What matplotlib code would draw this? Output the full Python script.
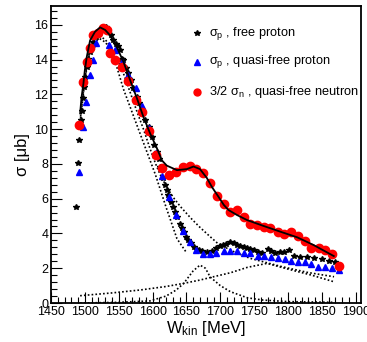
import matplotlib
matplotlib.use("Agg")
import matplotlib.pyplot as plt
from matplotlib.ticker import MultipleLocator

plt.rcParams['font.family'] = ['Liberation Sans', 'DejaVu Sans']
plt.rcParams['mathtext.fontset'] = 'custom'
plt.rcParams['mathtext.rm'] = 'Liberation Sans'
plt.rcParams['mathtext.it'] = 'Liberation Sans:italic'

# ---- data: free proton (stars)
star_w = [1487, 1490.4, 1491.9, 1494, 1495.4, 1497, 1498.8, 1500.3, 1502.8, 1505, 1507.7, 1510,
          1512.6, 1516.6, 1520, 1524, 1527.4, 1531.4, 1534.8, 1538, 1542, 1546, 1549, 1552,
          1554.6, 1557, 1561, 1564.4, 1568, 1571.7, 1576.8, 1580.6, 1584, 1589, 1594, 1599,
          1602.8, 1606.4, 1609, 1611, 1615, 1618.6, 1621, 1623.5, 1627, 1630, 1632.4, 1636,
          1640, 1643.3, 1645.7, 1649.7, 1653, 1656.7, 1660.5, 1665.5, 1668, 1673, 1680,
          1687.7, 1694, 1699, 1704, 1709, 1714.8, 1719.7, 1724.7, 1729.6, 1734.5, 1739.5,
          1744.4, 1750, 1755, 1761.6, 1770, 1775, 1781, 1787.7, 1794.7, 1801, 1808.4,
          1818.3, 1828, 1838, 1850.4, 1860, 1870]
star_s = [5.5, 8.06, 9.37, 10.5, 11.05, 11.76, 12.43, 13.0, 13.6, 14.06, 14.44, 14.73,
          15.0, 15.3, 15.5, 15.7, 15.9, 15.9, 15.7, 15.4, 15.1, 14.9, 14.8, 14.54,
          14.06, 13.97, 13.5, 13.2, 12.8, 12.34, 11.86, 11.48, 11.0, 10.5, 10.13, 9.56,
          9.08, 8.7, 8.3, 7.83, 7.17, 6.8, 6.5, 6.2, 5.82, 5.53, 5.25, 4.96,
          4.54, 4.29, 4.1, 3.81, 3.62, 3.43, 3.24, 3.05, 3.05, 2.99, 2.95,
          3.0, 3.14, 3.28, 3.33, 3.39, 3.52, 3.43, 3.33, 3.28, 3.2, 3.14,
          3.1, 3.05, 2.95, 2.89, 3.08, 3.0, 2.86, 2.95, 2.95, 3.05, 2.7,
          2.63, 2.63, 2.57, 2.51, 2.41, 2.34]

# ---- quasi-free proton (triangles)
tri_w = [1491.9, 1497, 1501.8, 1507.7, 1512.6, 1516.6, 1536, 1544.7, 1554.6, 1564.4, 1575,
         1585, 1595, 1605, 1614.6, 1624.6, 1634.5, 1644.5, 1654.6, 1664.5, 1674.4, 1684.2,
         1694, 1705, 1714.8, 1724.7, 1734.5, 1744.4, 1755.2, 1765, 1775, 1784.8, 1795,
         1805, 1815, 1824.7, 1834.6, 1844.5, 1855.3, 1865.2, 1876]
tri_s = [7.55, 10.13, 11.57, 13.1, 13.97, 14.96, 14.83, 14.54, 13.87, 13.1, 12.34,
         11.32, 10.04, 8.6, 7.3, 6.11, 5.06, 4.15, 3.5, 3.05, 2.8, 2.8,
         2.89, 2.99, 2.99, 2.99, 2.89, 2.86, 2.7, 2.7, 2.63, 2.57, 2.51,
         2.41, 2.37, 2.34, 2.24, 2.09, 2.05, 1.99, 1.9]

# ---- 3/2 quasi-free neutron (circles)
circ_w = [1491.9, 1497, 1502.8, 1507.7, 1512.6, 1520, 1527, 1532, 1537, 1544.7, 1554.6,
          1564.4, 1575, 1585, 1595, 1605, 1614.6, 1624.5, 1634, 1644.5, 1654.6, 1664.5,
          1674.4, 1685, 1695, 1705, 1714.8, 1724.7, 1734.5, 1744.4, 1754.3, 1764, 1774,
          1784.8, 1794.7, 1805, 1815, 1824.7, 1834.6, 1845.4, 1855.3, 1865.2, 1876]
circ_s = [10.23, 12.7, 13.87, 14.64, 15.4, 15.5, 15.8, 15.7, 14.4, 13.97, 13.6,
          12.76, 11.7, 10.96, 9.9, 8.5, 7.74, 7.36, 7.55, 7.8, 7.85, 7.72,
          7.45, 6.88, 6.17, 5.67, 5.25, 5.34, 4.96, 4.54, 4.48, 4.39, 4.33,
          4.06, 3.97, 4.06, 3.85, 3.58, 3.14, 3.18, 3.05, 2.8, 2.13]

# ---- fit curves
fit_w = [1493, 1495, 1497.8, 1500, 1502.8, 1507.7, 1515, 1522.5, 1530, 1537, 1547, 1557,
         1567, 1577, 1586.5, 1596.4, 1606.4, 1613.8, 1621, 1636, 1650.7, 1660.5, 1670,
         1680, 1688, 1697.5, 1705, 1712, 1724.7, 1739.5, 1764, 1788.8, 1813.5, 1838, 1867.6]
fit_s = [10.9, 11.8, 12.6, 13.4, 14.15, 15.1, 15.6, 15.85, 15.7, 15.4, 14.73, 13.87,
         12.8, 11.76, 10.7, 9.75, 8.9, 8.2, 7.9, 7.64, 7.7, 7.85, 7.7,
         7.2, 6.65, 6.1, 5.65, 5.35, 5.06, 4.77, 4.43, 4.1, 3.78, 3.33, 2.7]

compA_w = [1493, 1498, 1503, 1508, 1515, 1522, 1530, 1537, 1547, 1557, 1567, 1577, 1587,
           1596, 1604, 1611, 1621, 1631, 1641, 1656, 1670, 1684, 1697, 1720, 1744, 1790,
           1830, 1868]
compA_s = [10.5, 12.2, 13.7, 14.6, 15.15, 15.35, 15.15, 14.8, 14.1, 13.2, 12.1, 11.0, 9.95,
           8.9, 8.05, 7.4, 6.65, 6.05, 5.55, 4.9, 4.35, 3.85, 3.4, 2.95, 2.57, 2.1,
           1.75, 1.51]

compA2_w = [1493, 1498, 1503, 1508, 1515, 1522, 1530, 1540, 1557, 1580, 1604, 1620, 1636, 1650]
compA2_s = [10.4, 12.1, 13.6, 14.5, 15.05, 15.2, 15.0, 14.5, 12.3, 9.9, 7.4, 5.5, 3.7, 2.9]

compB_w = [1493, 1540, 1582, 1620, 1646, 1670, 1690, 1715, 1740, 1769, 1800, 1835, 1868]
compB_s = [0.42, 0.58, 0.75, 0.95, 1.13, 1.32, 1.51, 1.74, 2.05, 2.28, 1.95, 1.6, 1.22]

compC_w = [1493, 1550, 1596, 1620, 1635, 1646, 1660, 1670, 1678, 1685, 1700, 1715, 1740,
           1763, 1800, 1868]
compC_s = [0.0, 0.04, 0.12, 0.4, 0.75, 1.13, 1.85, 2.18, 2.0, 1.5, 1.0, 0.65, 0.3,
           0.17, 0.08, 0.04]

fig = plt.figure(figsize=(3.67, 3.42), dpi=100)
ax = fig.add_axes([0.139, 0.114, 0.845, 0.868])

dot = dict(color='black', lw=1.2, ls=(0, (1, 1.3)))
ax.plot(compA_w, compA_s, **dot)
ax.plot(compA2_w, compA2_s, **dot)
ax.plot(compB_w, compB_s, **dot)
ax.plot(compC_w, compC_s, **dot)

ax.plot(star_w, star_s, ls='none', marker='*', ms=4.2, color='black', mec='black', zorder=3)
ax.plot(tri_w, tri_s, ls='none', marker='^', ms=5, color='#0000ff', mec='#0000ff', zorder=3)
ax.plot(circ_w, circ_s, ls='none', marker='o', ms=6, color='#ff0000', mec='#ff0000', zorder=4)
ax.plot(fit_w, fit_s, color='black', lw=1.3, zorder=5)

# legend (manual, frameless)
leg_marks = ['*', '^', 'o']
leg_cols = ['black', '#0000ff', '#ff0000']
leg_sizes = [4, 4.5, 5]
leg_labels = ['σ$_\\mathregular{p}$ , free proton', 'σ$_\\mathregular{p}$ , quasi-free proton',
              '3/2 σ$_\\mathregular{n}$ , quasi-free neutron']
leg_y = [0.908, 0.813, 0.711]
for m, c, s, lab, yy in zip(leg_marks, leg_cols, leg_sizes, leg_labels, leg_y):
    ax.plot([0.472], [yy], transform=ax.transAxes, marker=m, color=c, mec=c, ms=s, ls='none')
    ax.text(0.508, yy, lab, transform=ax.transAxes, fontsize=9.2, va='center', ha='left')

ax.set_xlim(1450, 1908)
ax.set_ylim(0, 17.07)
ax.xaxis.set_major_locator(MultipleLocator(50))
ax.xaxis.set_minor_locator(MultipleLocator(10))
ax.yaxis.set_major_locator(MultipleLocator(2))
ax.yaxis.set_minor_locator(MultipleLocator(0.4))
ax.tick_params(which='both', direction='in', top=False, right=False, labelsize=9, pad=2)
ax.tick_params(which='major', length=8, width=0.8)
ax.tick_params(which='minor', length=4, width=0.8)
for sp in ax.spines.values():
    sp.set_linewidth(1.3)

ax.set_xlabel('W$_\\mathregular{kin}$ [MeV]', fontsize=12, labelpad=1)
ax.set_ylabel('σ [μb]', fontsize=12, labelpad=3)

fig.savefig('out.png', dpi=100)
